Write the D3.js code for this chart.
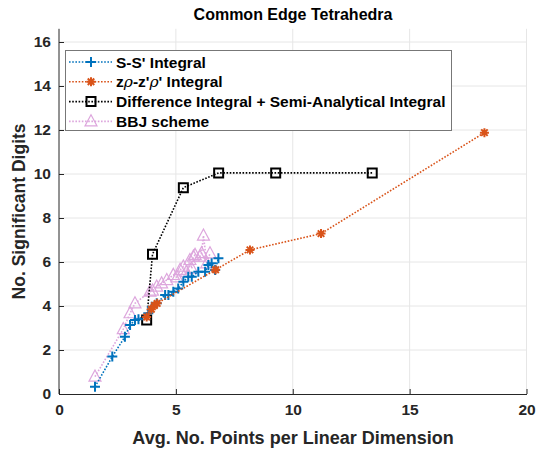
<!DOCTYPE html>
<html><head><meta charset="utf-8">
<script src="https://cdn.jsdelivr.net/npm/d3@7/dist/d3.min.js"></script>
<style>
html,body{margin:0;padding:0;background:#fff;}
svg{display:block;font-family:"Liberation Sans",Arial,Helvetica,sans-serif;}
</style></head>
<body><svg id="chart" width="536" height="450"></svg>
<script>
const title = "Common Edge Tetrahedra";
const xLabel = "Avg. No. Points per Linear Dimension";
const yLabel = "No. Significant Digits";
const xTicks = [0, 5, 10, 15, 20];
const yTicks = [0, 2, 4, 6, 8, 10, 12, 14, 16];

// S-S' Integral
const ssX = [1.54, 2.28, 2.82, 3.04, 3.25, 3.40, 3.82, 3.97, 4.18, 4.54, 4.68, 4.89, 5.10, 5.32, 5.53, 5.68, 5.96, 6.25, 6.39, 6.53, 6.68, 6.82];
const ssY = [0.33, 1.70, 2.60, 3.14, 3.36, 3.40, 3.67, 3.97, 4.12, 4.50, 4.50, 4.65, 4.80, 5.10, 5.33, 5.33, 5.56, 5.56, 5.86, 5.94, 5.64, 6.17];
// z rho - z' rho' Integral
const zrX = [3.75, 3.95, 4.08, 4.20, 6.70, 8.17, 11.21, 18.20];
const zrY = [3.50, 3.85, 4.02, 4.12, 5.65, 6.55, 7.29, 11.88];
// Difference Integral + Semi-Analytical Integral
const diX = [3.75, 4.00, 5.32, 6.83, 9.27, 13.40];
const diY = [3.36, 6.35, 9.38, 10.05, 10.05, 10.05];
// BBJ scheme
const bbX = [1.54, 2.75, 3.04, 3.25, 3.89, 4.00, 4.18, 4.39, 4.61, 4.89, 5.05, 5.18, 5.32, 5.45, 5.60, 5.68, 5.75, 5.82, 6.03, 6.10, 6.18, 6.32, 6.46];
const bbY = [0.79, 2.95, 3.67, 4.12, 4.65, 4.70, 4.88, 5.03, 5.18, 5.41, 5.30, 5.64, 5.79, 5.55, 6.09, 5.70, 6.24, 6.32, 6.24, 6.40, 7.20, 5.94, 6.39];

const legendNames = ["S-S' Integral", "zρ-z'ρ' Integral", "Difference Integral + Semi-Analytical Integral", "BBJ scheme"];

const colBlue = "#0072BD", colOrange = "#D95319", colBlack = "#000000", colPink = "#DDA6DD";
const axisCol = "#262626", gridCol = "#e6e6e6";

const svg = d3.select("#chart");
const x = d3.scaleLinear().domain([0, 20]).range([59, 526.5]);
const y = d3.scaleLinear().domain([0, 16]).range([394, 42]);
const yTop = y(16.6);

// grid
const g = svg.append("g");
g.selectAll(".gx").data(xTicks.slice(1)).join("line")
  .attr("x1", d => x(d)).attr("x2", d => x(d)).attr("y1", y(0)).attr("y2", yTop)
  .attr("stroke", gridCol).attr("stroke-width", 1);
g.selectAll(".gy").data(yTicks.slice(1)).join("line")
  .attr("x1", x(0)).attr("x2", x(20)).attr("y1", d => y(d)).attr("y2", d => y(d))
  .attr("stroke", gridCol).attr("stroke-width", 1);

// axes
const xAxis = d3.axisBottom(x).tickValues(xTicks).tickSizeInner(-5).tickSizeOuter(0).tickPadding(10);
const yAxis = d3.axisLeft(y).tickValues(yTicks).tickSizeInner(-5).tickSizeOuter(0).tickPadding(8);
const gx = svg.append("g").attr("transform", `translate(0,${y(0)})`).call(xAxis);
const gy = svg.append("g").attr("transform", `translate(${x(0)},0)`).call(yAxis);
gy.select(".domain").attr("d", `M0,${y(0)}V${yTop}`);
[gx, gy].forEach(a => {
  a.select(".domain").attr("stroke", axisCol);
  a.selectAll(".tick line").attr("stroke", axisCol);
  a.selectAll(".tick text").attr("fill", axisCol).attr("font-size", 15.5).attr("font-weight", "bold")
    .attr("font-family", "'Liberation Sans',Arial,sans-serif");
});

// series
function series(xs, ys, color, marker, size, sw) {
  const pts = xs.map((v, i) => [v, ys[i]]);
  const line = d3.line().x(d => x(d[0])).y(d => y(d[1]));
  const s = svg.append("g");
  s.append("path").attr("d", line(pts)).attr("fill", "none").attr("stroke", color)
    .attr("stroke-width", 1.6).attr("stroke-dasharray", "1.6,1.6");
  s.selectAll("path.m").data(pts).join("path").attr("class", "m")
    .attr("transform", d => `translate(${x(d[0])},${y(d[1])})`)
    .attr("d", markerPath(marker, size)).attr("fill", "none").attr("stroke", color).attr("stroke-width", sw);
}
function markerPath(m, s) {
  const h = s / 2;
  if (m === "plus") return `M${-h},0H${h}M0,${-h}V${h}`;
  if (m === "square") return `M${-h},${-h}H${h}V${h}H${-h}Z`;
  if (m === "tri") return `M0,${-h * 1.1}L${h},${h * 0.75}L${-h},${h * 0.75}Z`;
  if (m === "star") {
    let p = `M${-h},0H${h}M0,${-h}V${h}`;
    const k = h * 0.72;
    p += `M${-k},${-k}L${k},${k}M${-k},${k}L${k},${-k}`;
    return p;
  }
}
series(bbX, bbY, colPink, "tri", 12, 1.2);
series(diX, diY, colBlack, "square", 9, 2);
series(ssX, ssY, colBlue, "plus", 10, 2);
series(zrX, zrY, colOrange, "star", 9, 2);

// legend
const lg = svg.append("g");
lg.append("rect").attr("x", 65.5).attr("y", 50.5).attr("width", 386).attr("height", 80)
  .attr("fill", "#fff").attr("stroke", "#777").attr("stroke-width", 1);
const leg = [
  [colBlue, "plus", 10, 2],
  [colOrange, "star", 9, 2],
  [colBlack, "square", 9, 2],
  [colPink, "tri", 12, 1.2]
];
leg.forEach((l, i) => {
  const yy = 62 + i * 19.8;
  lg.append("line").attr("x1", 69).attr("x2", 112).attr("y1", yy).attr("y2", yy)
    .attr("stroke", l[0]).attr("stroke-width", 1.6).attr("stroke-dasharray", "1.6,1.6");
  lg.append("path").attr("transform", `translate(91,${yy})`).attr("d", markerPath(l[1], l[2]))
    .attr("fill", "none").attr("stroke", l[0]).attr("stroke-width", l[3]);
  const t = lg.append("text").attr("x", 116).attr("y", yy + 5.5).attr("font-size", 15.5)
    .attr("font-weight", "bold").attr("fill", "#000");
  if (i === 1) {
    t.append("tspan").text("z");
    t.append("tspan").attr("font-style", "italic").attr("font-weight", "normal").attr("font-family", "'DejaVu Serif',serif").text("ρ");
    t.append("tspan").text("-z'");
    t.append("tspan").attr("font-style", "italic").attr("font-weight", "normal").attr("font-family", "'DejaVu Serif',serif").text("ρ");
    t.append("tspan").text("' Integral");
  } else {
    t.text(legendNames[i]);
  }
});

// titles
svg.append("text").attr("x", 293).attr("y", 20).attr("text-anchor", "middle")
  .attr("font-size", 16).attr("font-weight", "bold").attr("fill", "#000").text(title);
svg.append("text").attr("x", 293).attr("y", 444).attr("text-anchor", "middle")
  .attr("font-size", 18).attr("font-weight", "bold").attr("fill", axisCol).text(xLabel);
svg.append("text").attr("transform", `translate(25,${(y(0) + yTop) / 2}) rotate(-90)`).attr("text-anchor", "middle")
  .attr("font-size", 17.5).attr("font-weight", "bold").attr("fill", axisCol).text(yLabel);
</script></body></html>
